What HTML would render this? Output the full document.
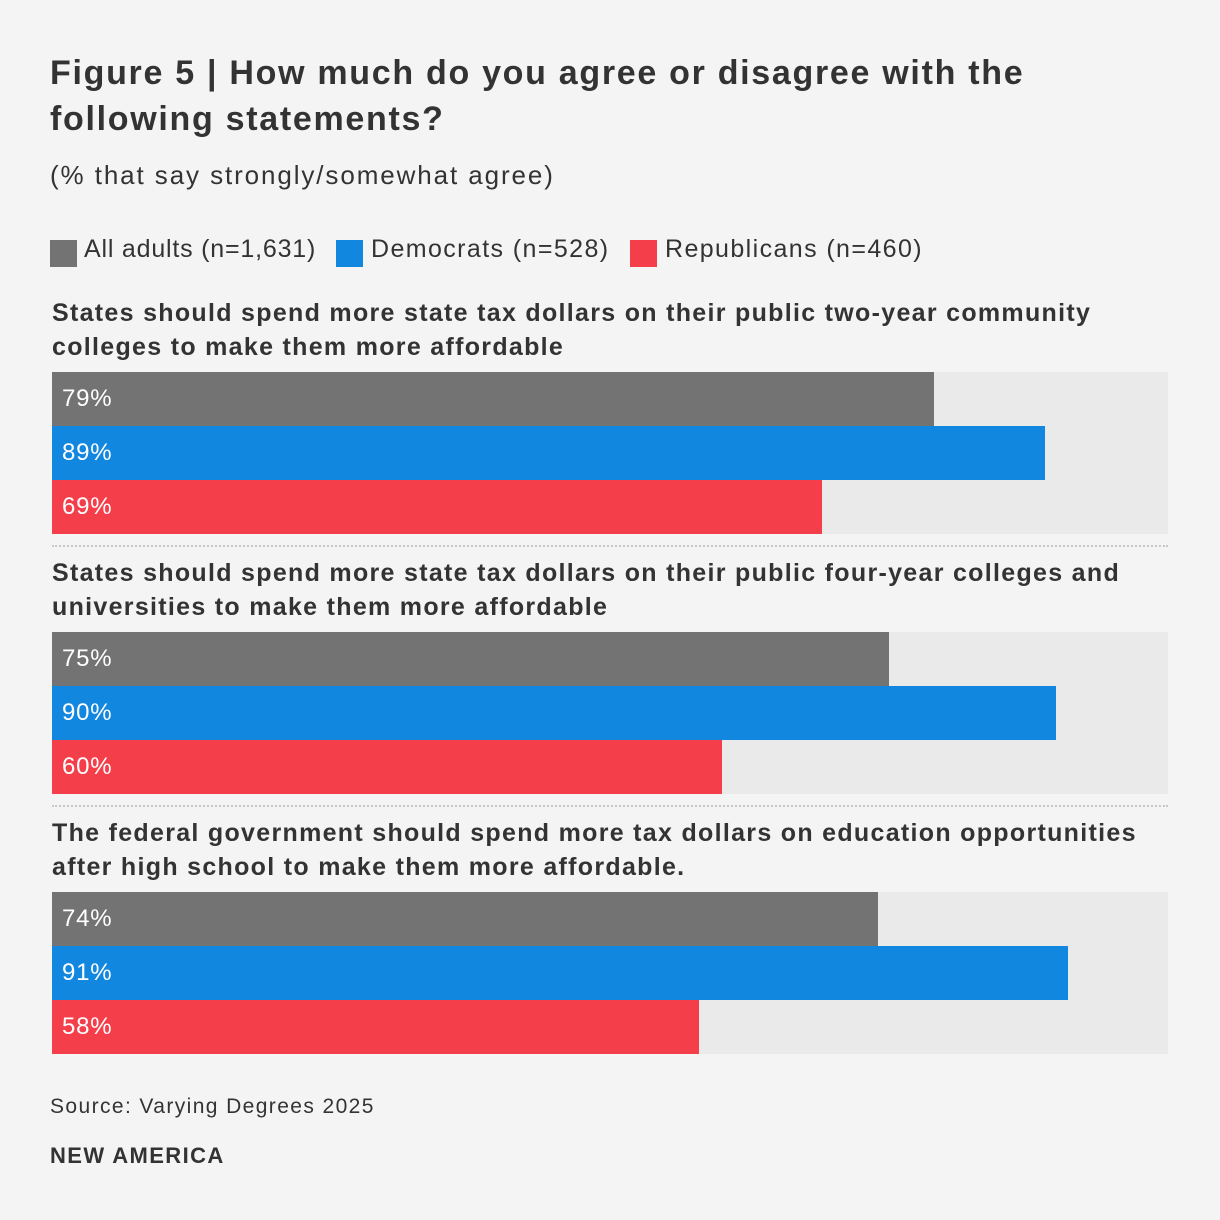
<!DOCTYPE html>
<html><head><meta charset="utf-8"><style>
body{margin:0;background:#f4f4f4;width:1220px;height:1220px;position:relative;overflow:hidden;font-family:"Liberation Sans",sans-serif;color:#333}
.a{position:absolute;white-space:nowrap}
</style></head><body>
<div class="a" style="left:50px;top:50px;font-size:34px;font-weight:bold;line-height:46px;color:#333;letter-spacing:1.7px">Figure 5 | How much do you agree or disagree with the<br>following statements?</div>
<div class="a" style="left:50px;top:160px;font-size:26px;letter-spacing:1.9px">(% that say strongly/somewhat agree)</div>
<div>
<div class="a" style="left:50px;top:240px;width:27px;height:27px;background:#737373"></div>
<div class="a" style="left:84px;top:235px;font-size:25px;letter-spacing:0.8px">All adults (n=1,631)</div>
<div class="a" style="left:336px;top:240px;width:27px;height:27px;background:#1287e0"></div>
<div class="a" style="left:371px;top:235px;font-size:25px;letter-spacing:1.4px">Democrats (n=528)</div>
<div class="a" style="left:630px;top:240px;width:27px;height:27px;background:#f43f4b"></div>
<div class="a" style="left:665px;top:235px;font-size:25px;letter-spacing:1.4px">Republicans (n=460)</div>
</div>
<div id="chart"></div>
<div class="a" style="left:50px;top:1095px;font-size:21px;letter-spacing:1.4px">Source: Varying Degrees 2025</div>
<div class="a" style="left:50px;top:1143px;font-size:22px;font-weight:bold;letter-spacing:1.4px">NEW AMERICA</div>
<script>
const questions=["States should spend more state tax dollars on their public two-year community<br>colleges to make them more affordable","States should spend more state tax dollars on their public four-year colleges and<br>universities to make them more affordable","The federal government should spend more tax dollars on education opportunities<br>after high school to make them more affordable."];
const allAdults=[79,75,74];
const democrats=[89,90,91];
const republicans=[69,60,58];
const colors=["#737373","#1287e0","#f43f4b"];
const X0=52,W=1116,BH=54;
const xs=v=>W*v/100;
const c=document.getElementById('chart');
questions.forEach((q,i)=>{
  const top=372+i*260;
  const t=document.createElement('div');t.className='a';
  
  
  t.style.cssText=`left:52px;top:${top-76}px;font-size:25px;font-weight:bold;line-height:34px;color:#333;letter-spacing:1.3px`;
  t.innerHTML=q;c.appendChild(t);
  const tr=document.createElement('div');tr.className='a';
  
  
  tr.style.cssText=`left:${X0}px;top:${top}px;width:${W}px;height:${BH*3}px;background:#eaeaea`;
  c.appendChild(tr);
  [allAdults[i],democrats[i],republicans[i]].forEach((v,j)=>{
    const b=document.createElement('div');b.className='a';
    
    
    b.style.cssText=`left:${X0}px;top:${top+j*BH}px;width:${xs(v)}px;height:${BH}px;background:${colors[j]};color:#fff;font-size:24px;line-height:${BH}px;box-sizing:border-box;padding-left:10px;letter-spacing:0.8px`;
    b.textContent=v+'%';c.appendChild(b);
  });
  if(i<2){
    const s=document.createElement('div');s.className='a';
    
    
    s.style.cssText=`left:${X0}px;top:${top+BH*3+11}px;width:${W}px;border-top:2px dotted #c8c8c8`;
    c.appendChild(s);
  }
});
</script>
</body></html>
